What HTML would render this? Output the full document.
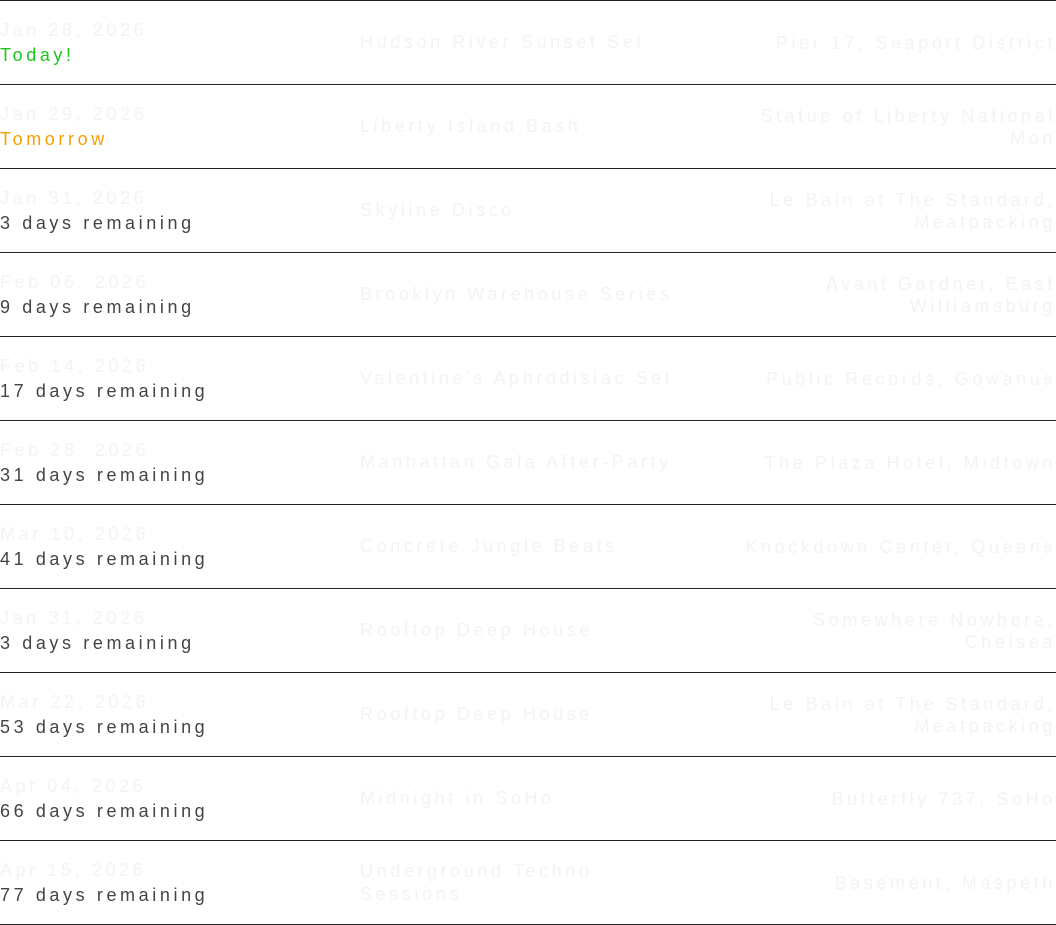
<!DOCTYPE html>
<html><head><meta charset="utf-8"><style>
html,body{margin:0;padding:0;background:#fff;width:1056px;height:925px;overflow:hidden}
body{font-family:"Liberation Sans",sans-serif;font-size:18px;letter-spacing:3.6px}
.row{position:relative;height:83px;border-top:1px solid #222;display:flex}
.last{border-bottom:1px solid #222}
.c1{width:360px;padding-top:17px;line-height:25px;box-sizing:border-box}
.d{color:#f3f3f3}
.s{color:#444}
.c2{width:340px;display:flex;align-items:center;color:#f3f3f3;line-height:23px;white-space:nowrap}
.c3{width:356px;display:flex;align-items:center;justify-content:flex-end;text-align:right;color:#f3f3f3;line-height:22px;margin-right:-3.6px;white-space:nowrap}
</style></head><body>
<div class="row"><div class="c1"><div class="d">Jan 28, 2026</div><div style="color:#1ec41e">Today!</div></div><div class="c2">Hudson River Sunset Set</div><div class="c3">Pier 17, Seaport District</div></div>
<div class="row"><div class="c1"><div class="d">Jan 29, 2026</div><div style="color:#f5a000">Tomorrow</div></div><div class="c2">Liberty Island Bash</div><div class="c3">Statue of Liberty National<br>Mon</div></div>
<div class="row"><div class="c1"><div class="d">Jan 31, 2026</div><div class="s">3 days remaining</div></div><div class="c2">Skyline Disco</div><div class="c3">Le Bain at The Standard,<br>Meatpacking</div></div>
<div class="row"><div class="c1"><div class="d">Feb 06, 2026</div><div class="s">9 days remaining</div></div><div class="c2">Brooklyn Warehouse Series</div><div class="c3">Avant Gardner, East<br>Williamsburg</div></div>
<div class="row"><div class="c1"><div class="d">Feb 14, 2026</div><div class="s">17 days remaining</div></div><div class="c2">Valentine's Aphrodisiac Set</div><div class="c3">Public Records, Gowanus</div></div>
<div class="row"><div class="c1"><div class="d">Feb 28, 2026</div><div class="s">31 days remaining</div></div><div class="c2">Manhattan Gala After-Party</div><div class="c3">The Plaza Hotel, Midtown</div></div>
<div class="row"><div class="c1"><div class="d">Mar 10, 2026</div><div class="s">41 days remaining</div></div><div class="c2">Concrete Jungle Beats</div><div class="c3">Knockdown Center, Queens</div></div>
<div class="row"><div class="c1"><div class="d">Jan 31, 2026</div><div class="s">3 days remaining</div></div><div class="c2">Rooftop Deep House</div><div class="c3">Somewhere Nowhere,<br>Chelsea</div></div>
<div class="row"><div class="c1"><div class="d">Mar 22, 2026</div><div class="s">53 days remaining</div></div><div class="c2">Rooftop Deep House</div><div class="c3">Le Bain at The Standard,<br>Meatpacking</div></div>
<div class="row"><div class="c1"><div class="d">Apr 04, 2026</div><div class="s">66 days remaining</div></div><div class="c2">Midnight in SoHo</div><div class="c3">Butterfly 737, SoHo</div></div>
<div class="row last"><div class="c1"><div class="d">Apr 15, 2026</div><div class="s">77 days remaining</div></div><div class="c2">Underground Techno<br>Sessions</div><div class="c3">Basement, Maspeth</div></div>
</body></html>
